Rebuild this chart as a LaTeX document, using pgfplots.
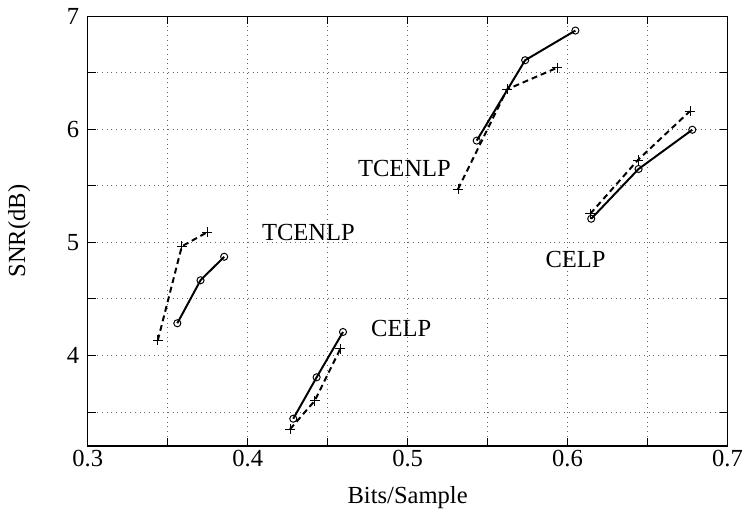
\documentclass[border=0pt]{standalone}
\usepackage{fontspec}
\setmainfont{Liberation Serif}
\usepackage{pgfplots}
\pgfplotsset{compat=1.18}

\begin{document}
\fontsize{12.5}{15}\selectfont
\begin{tikzpicture}
  \begin{axis}[
    scale only axis,
    width=324.5bp, height=218bp,
    xmin=0.3, xmax=0.7, ymin=3.2, ymax=7,
    xtick={0.3,0.4,0.5,0.6,0.7},
    xticklabels={0.3,0.4,0.5,0.6,0.7},
    minor xtick={0.35,0.45,0.55,0.65},
    ytick={4,5,6,7},
    minor ytick={3.5,4.5,5.5,6.5},
    grid=both,
    major grid style={dotted, black!60, line width=0.5pt},
    minor grid style={dotted, black!60, line width=0.5pt},
    tick align=inside,
    major tick length=4bp, minor tick length=4bp,
    tick style={black, line width=0.5pt},
    axis line style={line width=0.6pt},
    /pgf/number format/assume math mode=true,
    xticklabel style={yshift=2bp},
    xlabel={Bits/Sample},
    ylabel={SNR(dB)},
    xlabel style={yshift=-1bp},
    ylabel style={yshift=10bp},
    clip=false,
  ]
    % TCENLP, low rate
    \addplot[black, line width=1bp, dashed, dash pattern=on 3bp off 2bp,
      mark=+, mark size=2.5bp, mark options={solid, line width=0.4pt}]
      coordinates {(0.3438,4.134) (0.3588,4.965) (0.3747,5.090)};
    \addplot[black, line width=1bp, mark=o, mark size=1.8bp,
      mark options={line width=0.5pt}]
      coordinates {(0.3560,4.285) (0.3705,4.665) (0.3853,4.873)};
    % CELP, low rate
    \addplot[black, line width=1bp, dashed, dash pattern=on 3bp off 2bp,
      mark=+, mark size=2.5bp, mark options={solid, line width=0.4pt}]
      coordinates {(0.4265,3.349) (0.4419,3.599) (0.4579,4.059)};
    \addplot[black, line width=1bp, mark=o, mark size=1.8bp,
      mark options={line width=0.5pt}]
      coordinates {(0.4285,3.441) (0.4431,3.807) (0.4596,4.208)};
    % TCENLP, high rate
    \addplot[black, line width=1bp, dashed, dash pattern=on 3bp off 2bp,
      mark=+, mark size=2.5bp, mark options={solid, line width=0.4pt}]
      coordinates {(0.5315,5.471) (0.5622,6.353) (0.5936,6.545)};
    \addplot[black, line width=1bp, mark=o, mark size=1.8bp,
      mark options={line width=0.5pt}]
      coordinates {(0.5432,5.900) (0.5735,6.611) (0.6049,6.873)};
    % CELP, high rate
    \addplot[black, line width=1bp, dashed, dash pattern=on 3bp off 2bp,
      mark=+, mark size=2.5bp, mark options={solid, line width=0.4pt}]
      coordinates {(0.6142,5.253) (0.6440,5.729) (0.6765,6.160)};
    \addplot[black, line width=1bp, mark=o, mark size=1.8bp,
      mark options={line width=0.5pt}]
      coordinates {(0.6148,5.209) (0.6444,5.649) (0.6780,5.996)};

    \node at (axis cs:0.438,5.09) {TCENLP};
    \node at (axis cs:0.498,5.65) {TCENLP};
    \node at (axis cs:0.496,4.24) {CELP};
    \node at (axis cs:0.605,4.85) {CELP};
  \end{axis}
\end{tikzpicture}
\end{document}
